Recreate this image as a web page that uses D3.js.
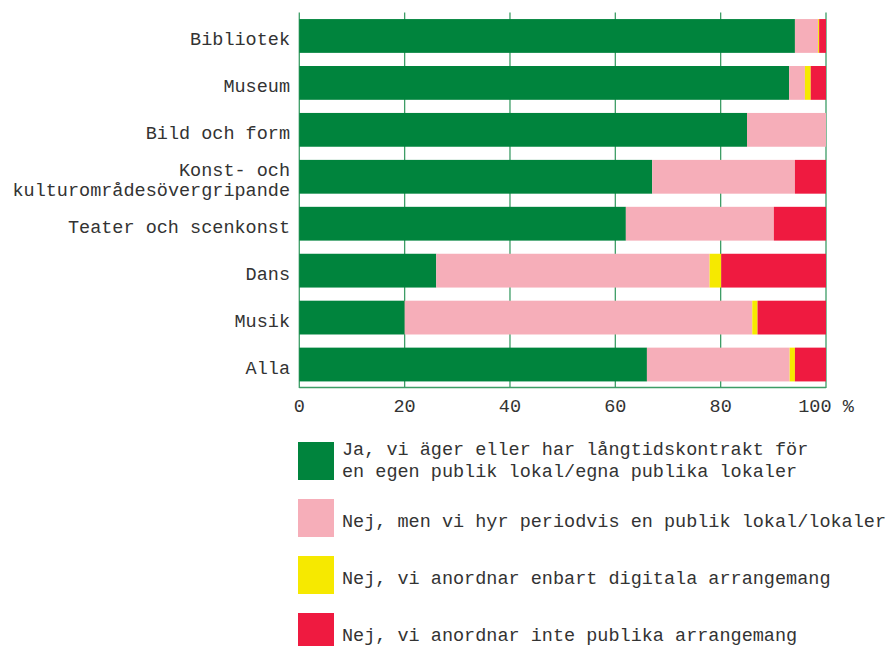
<!DOCTYPE html>
<html>
<head>
<meta charset="utf-8">
<script src="https://cdn.jsdelivr.net/npm/d3@7"></script>
<style>
  body { margin: 0; background: #fff; }
  svg text { font-family: "Liberation Mono", "DejaVu Sans Mono", monospace; fill: #333; font-size: 18.5px; }
</style>
</head>
<body>
<svg id="chart" width="891" height="646"></svg>
<script>
'use strict';

const categories = [
  ['Bibliotek'],
  ['Museum'],
  ['Bild och form'],
  ['Konst- och', 'kulturområdesövergripande'],
  ['Teater och scenkonst'],
  ['Dans'],
  ['Musik'],
  ['Alla']
]

const seriesNames = [
  ['Ja, vi äger eller har långtidskontrakt för', 'en egen publik lokal/egna publika lokaler'],
  ['Nej, men vi hyr periodvis en publik lokal/lokaler'],
  ['Nej, vi anordnar enbart digitala arrangemang'],
  ['Nej, vi anordnar inte publika arrangemang']
]
const seriesColors = ['#00843d', '#f6aeb9', '#f6e900', '#ef1a40']

// percent per category, one array per series
const agerLokal  = [94.1, 93.0, 85.0, 67.0, 62.0, 26.0, 20.0, 66.0]
const hyrLokal   = [ 4.4,  3.0, 15.0, 27.1, 28.1, 51.9, 66.0, 27.1]
const digitala   = [ 0.2,  1.1,  0.0,  0.0,  0.0,  2.2,  1.0,  1.0]
const ingaArr    = [ 1.3,  2.9,  0.0,  5.9,  9.9, 19.9, 13.0,  5.9]

const xTicks = [0, 20, 40, 60, 80, 100]
const xTickLabels = ['0', '20', '40', '60', '80', '100 %']

const svg = d3.select('#chart')
const gridColor = '#3d9d66'

const rows = categories.map((cat, ci) => ({
  key: cat.join(' '),
  lines: cat,
  s0: agerLokal[ci], s1: hyrLokal[ci], s2: digitala[ci], s3: ingaArr[ci]
}))

const x = d3.scaleLinear().domain([0, 100]).range([299.3, 826])
const y = d3.scaleBand()
  .domain(rows.map((r) => r.key))
  .range([12.5, 388])
  .paddingInner(0.28)
  .paddingOuter(0.14)

// gridlines
svg.append('g')
  .selectAll('line')
  .data(xTicks)
  .enter()
  .append('line')
    .attr('x1', (t) => x(t))
    .attr('x2', (t) => x(t))
    .attr('y1', 12.5)
    .attr('y2', 388)
    .attr('stroke', gridColor)
    .attr('stroke-width', 1.3)

// bottom axis line
svg.append('line')
  .attr('x1', x(0)).attr('x2', x(100))
  .attr('y1', 387.5).attr('y2', 387.5)
  .attr('stroke', gridColor)
  .attr('stroke-width', 1.5)

const stack = d3.stack().keys(['s0', 's1', 's2', 's3'])(rows)

svg.append('g')
  .selectAll('g')
  .data(stack)
  .enter()
  .append('g')
    .attr('fill', (s, si) => seriesColors[si])
  .selectAll('rect')
  .data((s) => s)
  .enter()
  .append('rect')
    .attr('x',      (d) => x(d[0]))
    .attr('width',  (d) => Math.max(0, x(d[1]) - x(d[0])))
    .attr('y',      (d) => y(d.data.key))
    .attr('height', y.bandwidth())

// category labels
const labels = svg.append('g')
  .selectAll('text')
  .data(rows)
  .enter()
  .append('text')
    .attr('text-anchor', 'end')

labels.selectAll('tspan')
  .data((r) => r.lines.map((line, li) => ({ line, li, n: r.lines.length, key: r.key })))
  .enter()
  .append('tspan')
    .attr('x', 290)
    .attr('y', (d) => y(d.key) + y.bandwidth() / 2 + 9 + (d.li - (d.n - 1) / 2) * 19.7)
    .text((d) => d.line)

// x tick labels
svg.append('g')
  .selectAll('text')
  .data(xTicks)
  .enter()
  .append('text')
    .attr('x', (t) => x(t))
    .attr('y', 412)
    .attr('text-anchor', 'middle')
    .text((t, ti) => xTickLabels[ti])

// legend
const legend = svg.append('g')
  .selectAll('g')
  .data(seriesNames)
  .enter()
  .append('g')
    .attr('transform', (s, si) => `translate(298, ${442 + si * 57})`)

legend.append('rect')
  .attr('width', 36)
  .attr('height', 38)
  .attr('fill', (s, si) => seriesColors[si])

legend.append('text')
  .selectAll('tspan')
  .data((s) => s.map((line, li) => ({ line, li, n: s.length })))
  .enter()
  .append('tspan')
    .attr('x', 44)
    .attr('y', (d) => 19 + 8.7 + (d.li - (d.n - 1) / 2) * 22 - (d.n > 1 ? 4 : 0))
    .text((d) => d.line)
</script>
</body>
</html>
